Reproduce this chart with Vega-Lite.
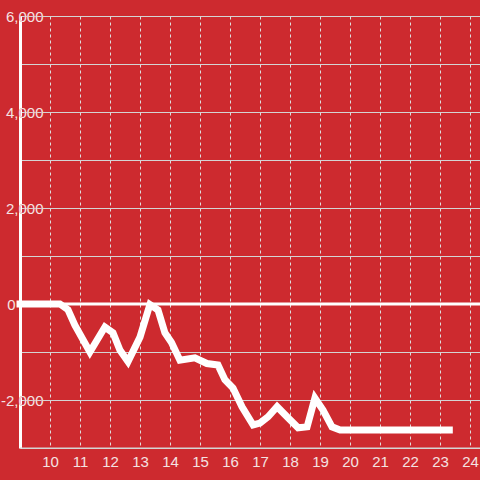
{
  "$schema": "https://vega.github.io/schema/vega-lite/v6.json",
  "width": 460,
  "height": 432,
  "autosize": {"type": "none"},
  "padding": {"left": 20, "top": 16, "right": 0, "bottom": 32},
  "background": "#cd2a2f",
  "config": {
    "view": {"stroke": null},
    "axis": {"labelFont": "Liberation Sans", "labelFontSize": 15, "title": null}
  },
  "data": {
    "values": [
      {"t": 9.0, "v": 0},
      {"t": 10.33, "v": 0},
      {"t": 10.6, "v": -120},
      {"t": 10.83, "v": -440},
      {"t": 11.33, "v": -1000},
      {"t": 11.83, "v": -480},
      {"t": 12.1, "v": -600},
      {"t": 12.33, "v": -960},
      {"t": 12.6, "v": -1200},
      {"t": 13.0, "v": -690},
      {"t": 13.33, "v": -10},
      {"t": 13.6, "v": -125},
      {"t": 13.83, "v": -600},
      {"t": 14.05, "v": -800},
      {"t": 14.33, "v": -1170},
      {"t": 14.83, "v": -1120},
      {"t": 15.23, "v": -1240},
      {"t": 15.6, "v": -1270},
      {"t": 15.83, "v": -1580},
      {"t": 16.1, "v": -1750},
      {"t": 16.4, "v": -2140},
      {"t": 16.77, "v": -2520},
      {"t": 17.0, "v": -2480},
      {"t": 17.27, "v": -2350},
      {"t": 17.57, "v": -2140},
      {"t": 17.9, "v": -2350},
      {"t": 18.27, "v": -2580},
      {"t": 18.57, "v": -2560},
      {"t": 18.83, "v": -1960},
      {"t": 19.1, "v": -2210},
      {"t": 19.4, "v": -2560},
      {"t": 19.67, "v": -2625},
      {"t": 23.31, "v": -2625}
    ]
  },
  "layer": [
    {
      "data": {"values": [{}]},
      "mark": {"type": "rule", "color": "#ffffff", "strokeWidth": 3},
      "encoding": {
        "y": {
          "datum": 0,
          "type": "quantitative",
          "scale": {"domain": [-3000, 6000], "nice": false, "zero": false},
          "axis": {
            "orient": "left",
            "values": [-3000, -2000, -1000, 0, 1000, 2000, 3000, 4000, 5000, 6000],
            "grid": true,
            "gridColor": "#d4d4d4",
            "gridWidth": 1,
            "domain": true,
            "domainColor": "#ffffff",
            "domainWidth": 3,
            "ticks": false,
            "labels": false
          }
        }
      }
    },
    {
      "mark": {"type": "line", "color": "#ffffff", "strokeWidth": 7, "strokeCap": "square"},
      "encoding": {
        "x": {
          "field": "t",
          "type": "quantitative",
          "scale": {"domain": [9, 24.3333], "nice": false, "zero": false},
          "axis": {
            "orient": "bottom",
            "values": [10, 11, 12, 13, 14, 15, 16, 17, 18, 19, 20, 21, 22, 23, 24],
            "grid": true,
            "gridColor": "#dedede",
            "gridDash": [3, 3],
            "gridWidth": 1,
            "domain": false,
            "ticks": false,
            "labelColor": "#f4e2e2",
            "labelPadding": 6,
            "labelFlush": false,
            "labelOverlap": false,
            "labelBound": false
          }
        },
        "y": {
          "field": "v",
          "type": "quantitative",
          "axis": {
            "orient": "left",
            "values": [-2000, 0, 2000, 4000, 6000],
            "grid": false,
            "domain": false,
            "ticks": false,
            "format": ",d",
            "labelExpr": "replace(datum.label, '\u2212', '-')",
            "labelAlign": "right",
            "labelBaseline": "middle",
            "labelPadding": {"condition": {"test": "datum.value === 0", "value": 5}, "value": -23},
            "labelColor": "#cd2a2f",
            "labelOverlap": false,
            "labelBound": false,
            "labelFlush": false,
            "encode": {"labels": {"update": {"stroke": {"value": "#cd2a2f"}, "strokeWidth": {"value": 6}}}}
          }
        }
      }
    },
    {
      "data": {"values": [{}]},
      "mark": {"type": "rule", "color": "#d4d4d4", "strokeWidth": 1},
      "encoding": {
        "y": {
          "datum": -3000,
          "type": "quantitative",
          "axis": {
            "orient": "left",
            "values": [-2000, 0, 2000, 4000, 6000],
            "grid": false,
            "domain": false,
            "ticks": false,
            "format": ",d",
            "labelExpr": "replace(datum.label, '\u2212', '-')",
            "labelAlign": "right",
            "labelBaseline": "middle",
            "labelPadding": {"condition": {"test": "datum.value === 0", "value": 5}, "value": -23},
            "labelColor": "#f4e2e2",
            "labelOverlap": false,
            "labelBound": false,
            "labelFlush": false
          }
        }
      }
    }
  ],
  "resolve": {"axis": {"y": "independent"}}
}
